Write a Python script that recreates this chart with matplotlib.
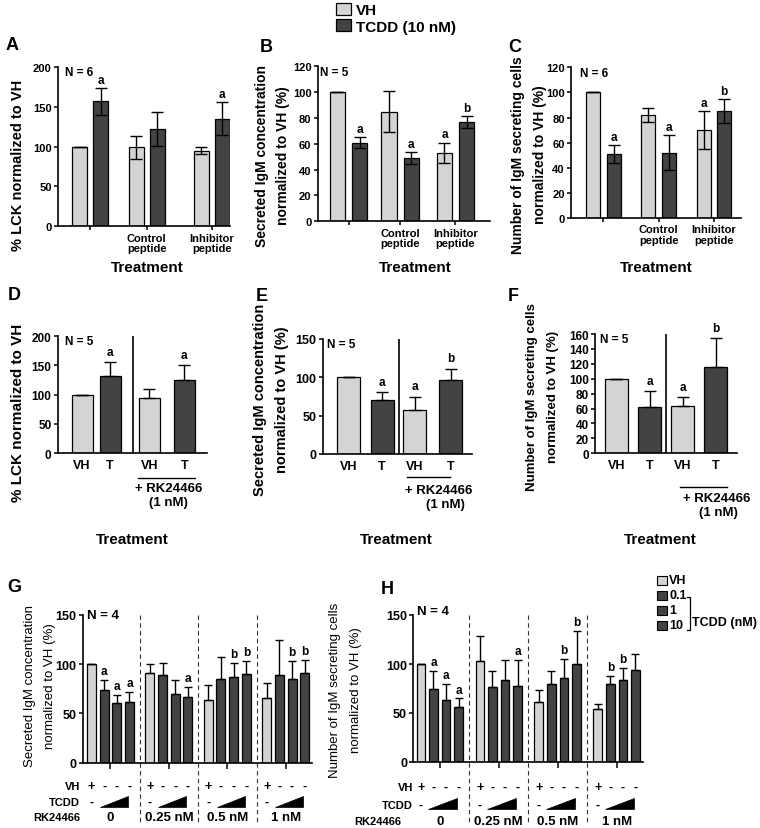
import matplotlib
matplotlib.use('Agg')
import matplotlib.pyplot as plt
from matplotlib.transforms import Affine2D, blended_transform_factory
from matplotlib.patches import Rectangle, Polygon
from matplotlib.lines import Line2D
import numpy as np

plt.rcParams['font.family'] = ['Liberation Sans', 'DejaVu Sans']
plt.rcParams['font.weight'] = 'bold'

# ---------------- data ----------------
pep_groups = ['', 'Control\npeptide', 'Inhibitor\npeptide']

A_vh = [100, 99, 95]
A_vh_err = [0, 14, 4.5]
A_td = [157, 122, 135]
A_td_err = [17, 21, 21]
A_vh_sig = ['', '', '']
A_td_sig = ['a', '', 'a']

B_vh = [100, 85, 53]
B_vh_err = [0, 16, 8]
B_td = [61, 49, 77]
B_td_err = [4, 4.5, 4.5]
B_vh_sig = ['', '', 'a']
B_td_sig = ['a', 'a', 'b']

C_vh = [100, 82, 70]
C_vh_err = [0, 5.5, 15]
C_td = [51, 52, 85]
C_td_err = [7, 14, 9.5]
C_vh_sig = ['', '', 'a']
C_td_sig = ['a', 'a', 'b']

rk_ticks = ['VH', 'T', 'VH', 'T']
D_vals = [100, 132, 94, 125]
D_err = [0, 24, 16, 26]
D_sig = ['', 'a', '', 'a']
E_vals = [100, 70, 58, 96]
E_err = [0, 10.5, 17, 15.5]
E_sig = ['', 'a', 'a', 'b']
F_vals = [100, 62, 63, 116]
F_err = [0, 21, 12, 39]
F_sig = ['', 'a', 'a', 'b']

rk_doses = ['0', '0.25 nM', '0.5 nM', '1 nM']
vh_row = ['+', '-', '-', '-']
G_vals = [[100, 74, 61, 62], [91, 89, 70, 67], [64, 85, 87, 90], [66, 89, 85, 91]]
G_err = [[0, 10, 8, 10], [9, 12, 14, 10], [15, 22, 14, 13], [15, 36, 18, 13]]
G_sig = [['', 'a', 'a', 'a'], ['', '', '', 'a'], ['', '', 'b', 'b'], ['', '', 'b', 'b']]
H_vals = [[100, 75, 63, 56], [103, 77, 84, 78], [61, 80, 86, 100], [54, 80, 84, 94]]
H_err = [[0, 18, 17, 9], [26, 16, 20, 26], [12, 13, 19, 34], [5, 8, 12, 16]]
H_sig = [['', 'a', 'a', 'a'], ['', '', '', 'a'], ['', '', 'b', 'b'], ['', 'b', 'b', '']]

# ---------------- style ----------------
LIGHT = '#d4d4d4'
DARK = '#434343'
W, H = 760, 829
fig = plt.figure(figsize=(W / 100, H / 100), dpi=100)
PX = Affine2D().scale(1 / W, -1 / H).translate(0, 1) + fig.transFigure


def ftxt(x, y, s, **kw):
    kw.setdefault('ha', 'center')
    kw.setdefault('va', 'center')
    return fig.text(x, y, s, transform=PX, **kw)


def fline(xs, ys, **kw):
    kw.setdefault('color', 'black')
    kw.setdefault('lw', 1.0)
    fig.add_artist(Line2D(xs, ys, transform=PX, **kw))


def add_ax(x0, y0, x1, y1, labelsize=8):
    ax = fig.add_axes([x0 / W, 1 - y1 / H, (x1 - x0) / W, (y1 - y0) / H])
    ax.spines[['top', 'right']].set_visible(False)
    for s in ['left', 'bottom']:
        ax.spines[s].set_linewidth(1.2)
    ax.tick_params(width=1.1, length=3, pad=1.5, labelsize=labelsize)
    ax.patch.set_alpha(0)
    return ax


def sig_text(ax, xs, tops, sigs, fs=8.5, off=1.5):
    for x, t, s in zip(xs, tops, sigs):
        if s:
            ax.annotate(s, (x, t), xytext=(0, off), textcoords='offset points',
                        ha='center', va='bottom', fontsize=fs, fontweight='bold',
                        annotation_clip=False)


def peptide_panel(ax, vh, vhe, td, tde, vhs, tds, centers, off, width, xlim, ylim, yticks):
    c = np.array(centers, dtype=float)
    xv, xt = c - off, c + off
    ax.bar(xv, vh, width, color=LIGHT, edgecolor='black', lw=0.9, zorder=2)
    ax.bar(xt, td, width, color=DARK, edgecolor='black', lw=0.9, zorder=2)
    ax.errorbar(xv, vh, yerr=vhe, fmt='none', ecolor='black', elinewidth=1,
                capsize=4, capthick=1, zorder=3)
    ax.errorbar(xt, td, yerr=tde, fmt='none', ecolor='black', elinewidth=1,
                capsize=4, capthick=1, zorder=3)
    sig_text(ax, xv, np.array(vh) + np.array(vhe), vhs)
    sig_text(ax, xt, np.array(td) + np.array(tde), tds)
    ax.set_xlim(*xlim)
    ax.set_ylim(*ylim)
    ax.set_yticks(yticks)
    ax.set_xticks(c)
    ax.set_xticklabels(pep_groups, linespacing=1.1)


# ---- Panel A ----
axA = add_ax(58, 68, 230, 227.3)
peptide_panel(axA, A_vh, A_vh_err, A_td, A_td_err, A_vh_sig, A_td_sig,
              [0, 0.93, 2.0], 0.173, 0.25, (-0.53, 2.3), (0, 200), [0, 50, 100, 150, 200])
# ---- Panel B ----
axB = add_ax(317.7, 67.3, 490, 222.3)
peptide_panel(axB, B_vh, B_vh_err, B_td, B_td_err, B_vh_sig, B_td_sig,
              [0, 0.967, 2.0], 0.206, 0.29, (-0.576, 2.645), (0, 120), range(0, 121, 20))
# ---- Panel C ----
axC = add_ax(571, 68.3, 740.7, 219)
peptide_panel(axC, C_vh, C_vh_err, C_td, C_td_err, C_vh_sig, C_td_sig,
              [0, 1.0, 2.0], 0.186, 0.253, (-0.585, 2.486), (0, 120), range(0, 121, 20))

for x in (147.5, 415, 656):
    ftxt(x, 268, 'Treatment', fontsize=11)

# letters
for lab, x, y in [('A', 12, 46), ('B', 266, 47), ('C', 515, 47),
                  ('D', 14, 296), ('E', 262, 297), ('F', 513, 297),
                  ('G', 14, 588), ('H', 387, 590)]:
    ftxt(x, y, lab, fontsize=13)

# N labels
for s, x, y, fs in [('N = 6', 65, 72.5, 8.5), ('N = 5', 320, 73, 8.5), ('N = 6', 580, 74, 8.5),
                    ('N = 5', 65, 342, 8.5), ('N = 5', 327, 345, 8.5), ('N = 5', 600, 340, 8.5),
                    ('N = 4', 87, 616, 9.5), ('N = 4', 417, 612, 9.5)]:
    ftxt(x, y, s, fontsize=fs, ha='left')

# y labels A-C
ftxt(18, 165, '% LCK normalized to VH', rotation=90, fontsize=10.5)
ftxt(262, 156, 'Secreted IgM concentration', rotation=90, fontsize=10)
ftxt(283, 156, 'normalized to VH (%)', rotation=90, fontsize=10)
ftxt(518, 155, 'Number of IgM secreting cells', rotation=90, fontsize=10)
ftxt(540, 155, 'normalized to VH (%)', rotation=90, fontsize=10)

# top legend
leg_handles = [Rectangle((0, 0), 1, 1, fc=LIGHT, ec='black', lw=0.9),
               Rectangle((0, 0), 1, 1, fc=DARK, ec='black', lw=0.9)]
fig.legend(leg_handles, ['VH', 'TCDD (10 nM)'], loc='upper left',
           bbox_to_anchor=(336 / W, 1 - 4 / H), frameon=False,
           prop={'size': 11, 'weight': 'bold'}, handlelength=0.95, handleheight=0.8,
           handletextpad=0.35, labelspacing=0.15, borderpad=0, borderaxespad=0)


# ---- Panels D-F ----
def rk_panel(ax, vals, err, sig, pos, width, xlim, ylim, yticks, divider):
    pos = np.array(pos, dtype=float)
    cols = [LIGHT, DARK, LIGHT, DARK]
    ax.bar(pos, vals, width, color=cols, edgecolor='black', lw=0.9, zorder=2)
    ax.errorbar(pos, vals, yerr=[np.zeros(len(err)), err], fmt='none', ecolor='black',
                elinewidth=1, capsize=4, capthick=1, zorder=3)
    sig_text(ax, pos, np.array(vals) + np.array(err), sig, off=3)
    ax.axvline(divider, color='black', lw=1.2)
    ax.set_xlim(*xlim)
    ax.set_ylim(*ylim)
    ax.set_yticks(yticks)
    ax.set_xticks(pos)
    ax.set_xticklabels(rk_ticks, fontsize=9)
    ax.tick_params(axis='x', length=0, pad=4)


axD = add_ax(57.7, 337, 206.7, 454.3, labelsize=8.5)
rk_panel(axD, D_vals, D_err, D_sig, [0, 1, 2.4, 3.65], 0.75, (-0.87, 4.45), (0, 200),
         [0, 50, 100, 150, 200], 1.83)
axE = add_ax(322.7, 340, 471.7, 455, labelsize=9)
rk_panel(axE, E_vals, E_err, E_sig, [0, 1.0, 1.98, 3.06], 0.69, (-0.78, 3.69), (0, 150),
         [0, 50, 100, 150], 1.51)
axF = add_ax(595, 335, 736.7, 454.3, labelsize=8.5)
rk_panel(axF, F_vals, F_err, F_sig, [0, 1, 2, 3], 0.67, (-0.65, 3.64), (0, 160),
         range(0, 161, 20), 1.49)

for (lx0, lx1, ly, tx, ty, tx2, ty2) in [(138, 195, 479, 169, 489, 168, 503),
                                         (407, 450, 478, 439, 491, 445, 505),
                                         (680, 727, 488, 717, 499, 718, 513)]:
    fline([lx0, lx1], [ly, ly], lw=1.0)
    ftxt(tx, ty, '+ RK24466', fontsize=9.5)
    ftxt(tx2, ty2, '(1 nM)', fontsize=9.5)

for x in (132.5, 396, 660):
    ftxt(x, 540, 'Treatment', fontsize=11)

ftxt(18, 413, '% LCK normalized to VH', rotation=90, fontsize=11)
ftxt(260, 400, 'Secreted IgM concentration', rotation=90, fontsize=10.5)
ftxt(282, 400, 'normalized to VH (%)', rotation=90, fontsize=10.5)
ftxt(532, 397, 'Number of IgM secreting cells', rotation=90, fontsize=9.5)
ftxt(553, 397, 'normalized to VH (%)', rotation=90, fontsize=9.5)


# ---- Panels G-H ----
def dose_panel(ax, vals, err, sig, gs, width, xlim, row_y, lab_x, rk_lab_x, wedge):
    vals = np.array(vals, dtype=float)
    err = np.array(err, dtype=float)
    cols = [LIGHT, DARK, DARK, DARK]
    bt = blended_transform_factory(ax.transData, PX)
    for g in range(4):
        x = g * gs + np.arange(4)
        ax.bar(x, vals[g], width, color=cols, edgecolor='black', lw=0.9, zorder=2)
        ax.errorbar(x, vals[g], yerr=[np.zeros(4), err[g]], fmt='none', ecolor='black',
                    elinewidth=1, capsize=3, capthick=1, zorder=3)
        sig_text(ax, x, vals[g] + err[g], sig[g], fs=8.5, off=2)
        for xi, s in zip(x, vh_row):
            ax.text(xi, row_y[0], s, transform=bt, ha='center', va='center', fontsize=9)
        ax.text(x[0], row_y[1], '-', transform=bt, ha='center', va='center', fontsize=9)
        wx0, wx1 = g * gs + wedge[0], g * gs + wedge[1]
        ax.add_patch(Polygon([[wx0, wedge[3]], [wx1, wedge[3]], [wx1, wedge[2]]],
                             closed=True, transform=bt, fc='black', ec='black',
                             lw=0.5, clip_on=False))
        ax.text(g * gs + 1.5, row_y[2], rk_doses[g], transform=bt, ha='center',
                va='center', fontsize=9.5)
        if g < 3:
            xd = g * gs + 3 + (gs - 3) / 2
            ax.add_line(Line2D([xd, xd], [616, 824], transform=bt, ls=(0, (4, 3)),
                               lw=0.8, color='#333333', clip_on=False))
    ax.set_xlim(*xlim)
    ax.set_ylim(0, 150)
    ax.set_yticks([0, 50, 100, 150])
    ax.set_xticks([g * gs + 1.5 for g in range(4)])
    ax.set_xticklabels([])
    ax.tick_params(axis='x', length=4)
    ftxt(lab_x, row_y[0], 'VH', ha='right', fontsize=8)
    ftxt(lab_x, row_y[1], 'TCDD', ha='right', fontsize=8)
    ftxt(rk_lab_x, row_y[2], 'RK24466', ha='right', fontsize=8)


axG = add_ax(82.7, 616, 312, 763.5, labelsize=9)
dose_panel(axG, G_vals, G_err, G_sig, 4.6, 0.71, (-0.685, 17.37), (787, 803, 818), 80, 80,
           (0.68, 2.86, 797, 808))
axH = add_ax(413.3, 616, 643.3, 763, labelsize=9)
dose_panel(axH, H_vals, H_err, H_sig, 4.68, 0.68, (-0.6, 17.66), (788, 806, 822), 413, 401,
           (0.57, 2.87, 799, 810))

ftxt(30, 686, 'Secreted IgM concentration', rotation=90, fontsize=9.5, fontweight='normal')
ftxt(50.5, 686, 'normalized to VH (%)', rotation=90, fontsize=9.5, fontweight='normal')
ftxt(335, 690, 'Number of IgM secreting cells', rotation=90, fontsize=9.5, fontweight='normal')
ftxt(355.5, 690, 'normalized to VH (%)', rotation=90, fontsize=9.5, fontweight='normal')

# H legend
for (top, col, lab) in [(577, LIGHT, 'VH'), (592, DARK, '0.1'), (607, DARK, '1'), (622, DARK, '10')]:
    fig.add_artist(Rectangle((656.7, top + 9), 10, -9, transform=PX, fc=col, ec='black', lw=0.8))
    ftxt(669, top + 4.5, lab, ha='left', fontsize=9)
fline([687, 689.5, 689.5, 687], [598, 598, 631, 631], lw=0.9)
ftxt(692, 623, 'TCDD (nM)', ha='left', fontsize=9)

fig.savefig('out.png', dpi=100)
